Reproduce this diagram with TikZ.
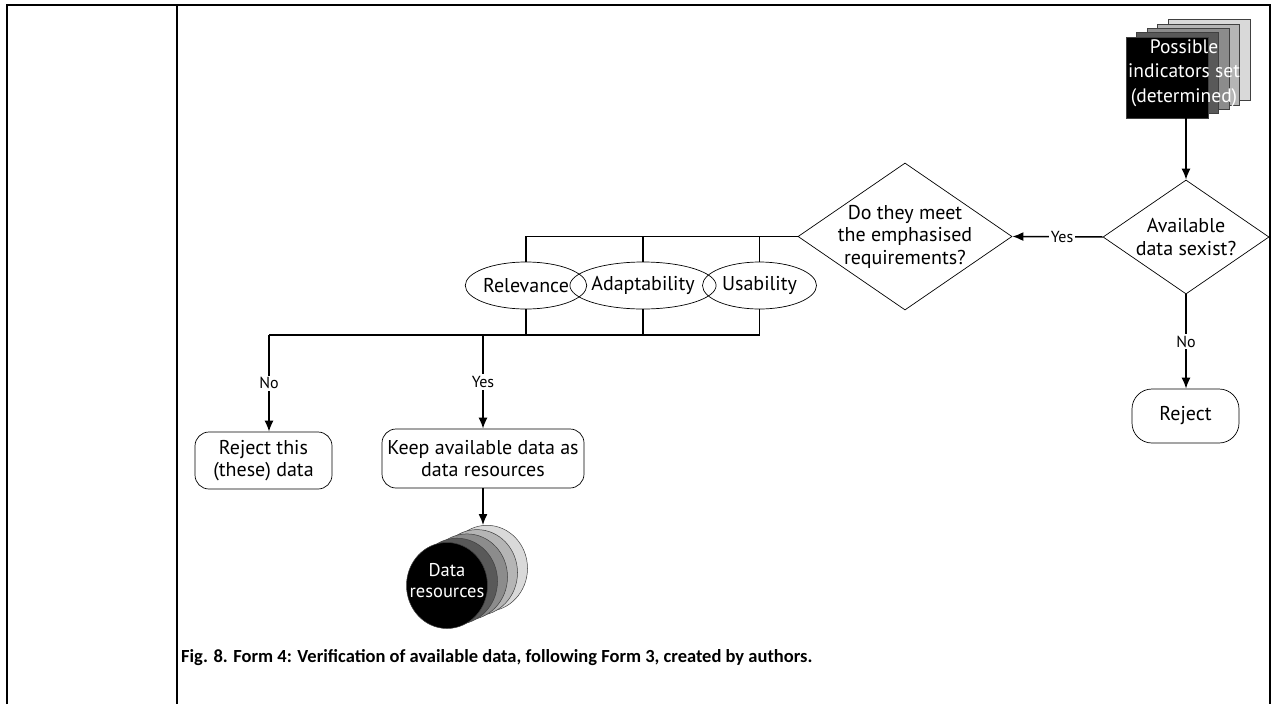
\documentclass[tikz,border=0pt]{standalone}
\usepackage{fontspec}
\setmainfont{PT Sans}
\newfontfamily\capfont{Carlito}
\usetikzlibrary{shapes.geometric,arrows.meta}
\definecolor{shadeB}{gray}{0.35}
\definecolor{shadeC}{gray}{0.55}
\definecolor{shadeD}{gray}{0.71}
\definecolor{shadeE}{gray}{0.85}
\begin{document}
\begin{tikzpicture}[x=1pt,y=-1pt,
  txt/.style={font=\fontsize{20}{22.5}\selectfont, align=center, inner sep=0pt},
  small/.style={font=\fontsize{16}{18}\selectfont, fill=white, inner sep=2pt},
  wire/.style={line width=1.5pt},
  arrow/.style={wire, -{Latex[length=11pt,width=9pt]}},
  decision/.style={diamond, draw, line width=0.7pt, inner sep=0pt},
  terminal/.style={draw, rounded corners=14pt, line width=0.7pt, inner sep=0pt,
    font=\fontsize{20}{22.5}\selectfont, align=center},
  crit/.style={ellipse, draw, line width=0.7pt, minimum width=114pt,
    minimum height=47pt, inner sep=0pt, font=\fontsize{20}{22.5}\selectfont},
  sheet/.style={draw=black!75, line width=0.5pt, minimum width=82pt,
    minimum height=81pt, inner sep=0pt},
  disc/.style={ellipse, draw=black!75, line width=0.5pt, minimum width=81pt,
    minimum height=86pt, inner sep=0pt},
  rule/.style={line width=2pt}
]
\useasboundingbox (0,0) rectangle (1274,704);

% table frame
\draw[rule] (7,704) -- (7,5) -- (1270,5) -- (1270,704);
\draw[rule] (176.5,5) -- (176.5,704);

% stacked sheets: possible indicators
\foreach \i/\c in {4/shadeE,3/shadeD,2/shadeC,1/shadeB,0/black}
  \node[sheet, fill=\c] (set\i) at ({1167+10.5*\i},{77.5-4.4*\i}) {};
\node[txt, text=white, font=\fontsize{19.5}{24.5}\selectfont] (settext) at (1184,73)
  {Possible\\indicators set\\(determined)};

% first decision
\node[decision, minimum width=166pt, minimum height=114pt] (avail) at (1186,237) {};
\node[txt] (availtext) at (avail) {Available\\data sexist?};
\draw[arrow] (set0.south -| avail.north) -- (avail.north);

% reject branch
\node[terminal, rounded corners=20pt, minimum width=107pt, minimum height=54pt]
  (reject) at (1185.5,416) {Reject};
\draw[arrow] (avail.south) -- node[small]{No} (avail.south |- reject.north);

% second decision
\node[decision, minimum width=214pt, minimum height=147pt] (meet) at (905,236.5) {};
\node[txt] (meettext) at (meet) {Do they meet\\the emphasised\\requirements?};
\draw[arrow] (avail.west) -- node[small, pos=0.45]{Yes} (meet.east);

% criteria
\node[crit] (rel) at (526,285.5) {Relevance};
\node[crit] (ada) at (643,285.5) {Adaptability};
\node[crit] (usa) at (759.5,285.5) {Usability};
\draw[wire] (meet.west) -- (meet.west -| rel.north) -- (rel.north);
\draw[wire] (ada.north) -- (ada.north |- meet.west);
\draw[wire] (usa.north) -- (usa.north |- meet.west);

\coordinate (bus) at (269,335);
\draw[wire] (usa.south) -- (usa.south |- bus) -- (bus);
\draw[wire] (rel.south) -- (rel.south |- bus);
\draw[wire] (ada.south) -- (ada.south |- bus);

% outcomes
\node[terminal, minimum width=137pt, minimum height=57pt] (drop) at (263.5,460.5)
  {Reject this\\(these) data};
\node[terminal, minimum width=202pt, minimum height=59pt] (keep) at (483,458.5)
  {Keep available data as\\data resources};
\draw[arrow] (bus) -- node[small]{No} (bus |- drop.north);
\draw[arrow] (keep.north |- bus) -- node[small]{Yes} (keep.north);

% stacked discs: data resources
\foreach \i/\c in {4/shadeE,3/shadeD,2/shadeC,1/shadeB,0/black}
  \node[disc, fill=\c] (res\i) at ({447+10*\i},{585.5-4.3*\i}) {};
\node[txt, text=white, font=\fontsize{18.5}{21}\selectfont] (restext) at (447,581)
  {Data\\resources};
\draw[arrow] (keep.south) -- (keep.south |- res4.north);

% caption
\node[anchor=west, inner sep=0pt, font=\capfont\bfseries\fontsize{18.5}{21}\selectfont]
  (cap) at (181,658)
  {Fig. 8. Form 4: Verification of available data, following Form 3, created by authors.};
\end{tikzpicture}
\end{document}
